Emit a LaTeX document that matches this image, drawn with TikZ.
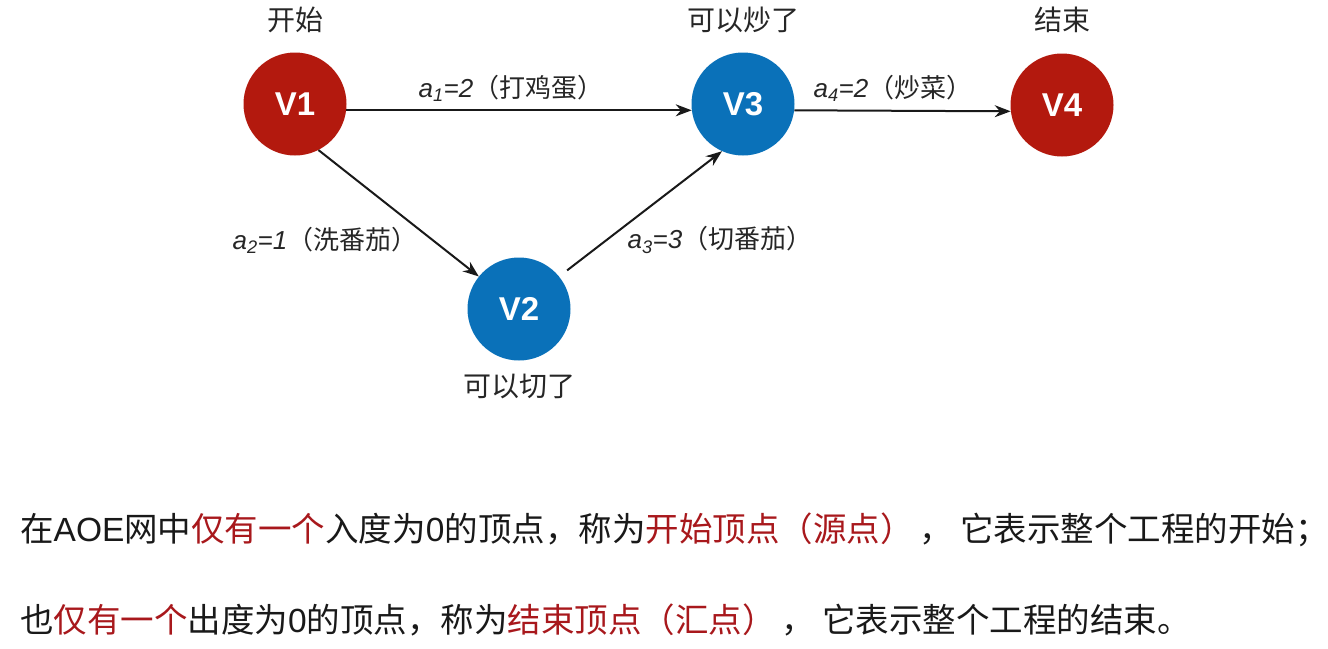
\documentclass[tikz,border=0pt]{standalone}
\usepackage{fontspec}
\setmainfont{Noto Sans CJK SC}
\newfontfamily\lat{Liberation Sans}
\usetikzlibrary{arrows.meta}
\definecolor{vred}{HTML}{B3190E}
\definecolor{vblue}{HTML}{0A71B9}
\definecolor{tred}{HTML}{A8181C}
\tikzset{
  vtx/.style={circle, minimum size=103pt, inner sep=0pt, text=white, font=\lat\bfseries\fontsize{33}{33}\selectfont},
  rv/.style={vtx, fill=vred},
  bv/.style={vtx, fill=vblue},
  vcap/.style={font=\fontsize{28}{28}\selectfont, text=black!85},
  elab/.style={font=\fontsize{26}{26}\selectfont, text=black!85},
  arr/.style={-{Stealth[length=16pt,width=12pt]}, line width=2pt, black!90},
  para/.style={font=\fontsize{33.5}{33.5}\selectfont, text=black!90, anchor=west, inner sep=0pt}
}
\newcommand{\ai}[1]{{\lat\itshape a\textsubscript{#1}}}
\newcommand{\rt}[1]{\textcolor{tred}{#1}}
\begin{document}
\begin{tikzpicture}[x=1pt,y=-1pt]
\useasboundingbox (0,0) rectangle (1328,648);
\node[rv] (v1) at (295,104) {V1};
\node[bv] (v3) at (743,104) {V3};
\node[rv] (v4) at (1062,105) {V4};
\node[bv] (v2) at (519,309) {V2};
\node[vcap] (c1) at (295,20) {开始};
\node[vcap] (c3) at (743,20) {可以炒了};
\node[vcap] (c4) at (1062,20) {结束};
\node[vcap] (c2) at (519,386) {可以切了};
\draw[arr] (v1.-7) -- (v3.187);
\draw[arr] (v1.-63) -- (v2.141);
\draw[arr, shorten <=10pt] (v2.39) -- (v3.-114);
\draw[arr] (v3.-7) -- (v4.187);
\node[elab] (l1) at (511,88) {\ai{1}{\lat\itshape =2}（打鸡蛋）};
\node[elab] (l4) at (893,88) {\ai{4}{\lat\itshape =2}（炒菜）};
\node[elab] (l2) at (325,240) {\ai{2}{\lat\itshape =1}（洗番茄）};
\node[elab] (l3) at (720,240) {\ai{3}{\lat\itshape =3}（切番茄）};
\node[para] (p1) at (20,530) {在{\lat AOE}网中\rt{仅有一个}入度为{\lat 0}的顶点，称为\rt{开始顶点（源点）}\,，\ 它表示整个工程的开始；};
\node[para] (p2) at (20,620) {也\rt{仅有一个}出度为{\lat 0}的顶点，称为\rt{结束顶点（汇点）}\,，\ 它表示整个工程的结束。};
\end{tikzpicture}
\end{document}
